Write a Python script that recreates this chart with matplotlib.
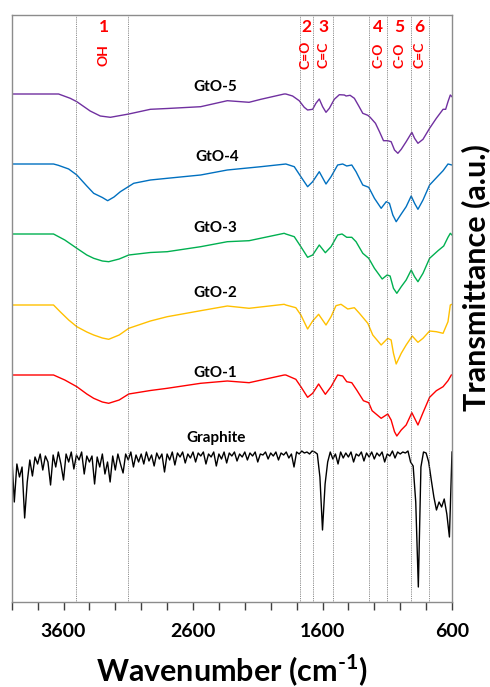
import numpy as np
import matplotlib
matplotlib.use("Agg")
import matplotlib.pyplot as plt
from matplotlib.ticker import FixedLocator, MultipleLocator

plt.rcParams['font.family'] = ['Lato', 'DejaVu Sans']
plt.rcParams['mathtext.fontset'] = 'custom'
plt.rcParams['mathtext.rm'] = 'Lato:bold'
plt.rcParams['mathtext.bf'] = 'Lato:bold'

# ---------------- data (wavenumber cm-1, transmittance a.u. incl. offset) ----------------
gto5_wn = [4000, 3638, 3548, 3497, 3394, 3316, 3238, 3096, 2929, 2799, 2541, 2335, 2167, 2076, 1896, 1883,
           1831, 1780, 1741, 1715,
           1676, 1651, 1625, 1599, 1573, 1547, 1509, 1470, 1431, 1418, 1387, 1354, 1320, 1289, 1250, 1232,
           1191, 1160, 1129, 1096, 1070, 1044, 1018, 992, 954, 910, 889, 863, 824, 773, 721, 669, 649, 631, 613, 600]
gto5_t = [508, 508, 503.7, 500.3, 491, 486, 484.7, 488, 492.7, 493.5, 495.3, 501.3, 499.7, 502.7, 508, 508,
          506, 501.3, 494.7, 492,
          492.7, 498.7, 503, 495.3, 489.7, 493.7, 502.7, 507.3, 507, 506, 506.7, 503.7, 496, 488.7, 486.7, 484.7,
          478.7, 470.3, 461.3, 461.3, 460.3, 452, 448.7, 452.7, 460.3, 469.7, 463.7, 458.7, 462.7, 473.7, 483.7, 492.7, 492.7, 500.3, 507, 505.3]

gto4_wn = [4000, 3677, 3640, 3560, 3497, 3420, 3367, 3300, 3259, 3210, 3161, 3058, 2929, 2799, 2541, 2335,
           2076, 1883, 1818, 1767, 1715,
           1676, 1625, 1573, 1534, 1483, 1444, 1413, 1374, 1341, 1289, 1243, 1199, 1147, 1108, 1083, 1057,
           1031, 992, 954, 915, 889, 863, 824, 773, 708, 669, 631, 600]
gto4_t = [438, 438, 436.7, 433, 427, 416, 408.7, 404.5, 401.3, 405, 410.3, 418.7, 422, 423.7, 427, 432,
          435.3, 438, 435.3, 425.3, 415.3,
          420.3, 430.3, 418, 425.3, 437, 438, 436, 437, 430.3, 417, 414.7, 403.7, 393.7, 400.3, 398.7, 387,
          380.3, 388, 395.3, 406, 398.7, 392.7, 402, 417, 426, 431.3, 438, 437]

gto3_wn = [4000, 3677, 3590, 3497, 3420, 3367, 3300, 3251, 3170, 3096, 2929, 2799, 2541, 2335, 2167, 1896,
           1883, 1818, 1767, 1715, 1676,
           1625, 1578, 1534, 1483, 1449, 1413, 1374, 1341, 1289, 1243, 1199, 1139, 1101, 1078, 1052, 1026,
           992, 954, 915, 889, 863, 824, 773, 708, 664, 631, 613, 600]
gto3_t = [368, 368, 362, 353.7, 347, 343.7, 341, 340.3, 343, 347, 349.5, 350.3, 355.3, 360.3, 361.3, 368.7,
          368, 365.3, 355.3, 344.7, 347,
          357, 349.3, 355.3, 367, 368, 364.7, 364.7, 360.3, 348.7, 343.7, 333.7, 323, 327, 326, 313.7, 308.7,
          315.3, 322, 332, 325.3, 320.3, 328.7, 343.7, 351.3, 356, 364.7, 368.7, 367]

gto2_wn = [4000, 3677, 3626, 3560, 3497, 3420, 3367, 3300, 3251, 3170, 3096, 2929, 2799, 2541, 2335, 2167,
           1896, 1883, 1806, 1767, 1715,
           1676, 1630, 1573, 1534, 1496, 1457, 1405, 1354, 1315, 1250, 1212, 1147, 1096, 1070, 1052, 1031,
           992, 954, 907, 863, 824, 773, 721, 669, 631, 613, 600]
gto2_t = [297, 297, 290.3, 282, 275.3, 270, 267, 264, 262.7, 267, 273.7, 281, 285.3, 291.3, 296, 293.7,
          297.7, 297, 294.3, 287, 273,
          281, 287.7, 277, 285.3, 296.3, 297.7, 293, 294.3, 288.7, 278.7, 267, 257, 263.7, 262, 248.7, 238,
          248.7, 257, 266, 259.7, 263.7, 271, 270.3, 268.7, 280.3, 297, 297.7]

gto1_wn = [4000, 3677, 3590, 3497, 3420, 3367, 3300, 3251, 3170, 3096, 2929, 2799, 2541, 2335, 2167, 1896,
           1883, 1806, 1767, 1715, 1676,
           1630, 1578, 1534, 1483, 1444, 1413, 1374, 1336, 1284, 1243, 1217, 1147, 1096, 1070, 1044, 1026,
           992, 954, 910, 863, 824, 773, 721, 669, 631, 605]
gto1_t = [227, 227, 222, 215.3, 208, 203.7, 200, 198.7, 202, 208, 211.5, 213.7, 218.7, 221, 219.3, 227,
          227, 222.7, 215.3, 204.7, 208.7,
          218, 207.7, 215.3, 227, 226, 220.3, 219.3, 212, 201.3, 199.3, 191.3, 183.7, 188, 182, 170.3, 166,
          172, 177, 189.3, 177, 189.3, 204.7, 211.3, 215.3, 221.3, 227]

graphite_wn = list(range(4000, 599, -20))
graphite_t = [148, 100, 138, 125, 135, 84, 120, 142, 126, 145,
              138, 148, 132, 146, 140, 117, 147, 135, 150, 138,
              122, 148, 140, 150, 133, 147, 142, 150, 128, 146,
              140, 146, 118, 145, 135, 148, 128, 140, 120, 146,
              132, 148, 138, 129, 148, 142, 150, 135, 147, 140,
              148, 138, 150, 141, 147, 136, 149, 143, 148, 130,
              148, 142, 150, 137, 149, 145, 150, 139, 148, 144,
              150, 140, 149, 146, 150, 138, 148, 145, 150, 136,
              148, 143, 150, 139, 149, 146, 150, 141, 148, 145,
              150, 142, 149, 146, 150, 140, 148, 147, 150, 143,
              149, 146, 150, 142, 149, 147, 150, 144, 148, 135,
              150, 148, 151, 149, 150, 148, 151, 150, 148, 125,
              72, 118, 140, 150, 143, 148, 138, 150, 144, 149,
              145, 150, 140, 148, 146, 150, 141, 149, 145, 150,
              143, 149, 146, 150, 140, 148, 146, 151, 144, 150,
              148, 150, 149, 151, 140, 136, 100, 15, 135, 150,
              149, 140, 122, 105, 92, 100, 95, 103, 88, 65, 150]

series_names = ["GtO-5", "GtO-4", "GtO-3", "GtO-2", "GtO-1", "Graphite"]
series_colors = ["#7030A0", "#0070C0", "#00B050", "#FFC000", "#FF0000", "#000000"]
label_wn = [2425, 2412, 2425, 2425, 2425, 2425]
label_t = [515, 445, 374, 309, 229, 164]

band_lines = [3500, 3100, 1775, 1670, 1520, 1240, 1100, 920, 775]
band_numbers = ["1", "2", "3", "4", "5", "6"]
band_number_wn = [3290, 1728, 1590, 1168, 1005, 852]
band_groups = ["OH", "C=O", "C=C", "C-O", "C-O", "C=C"]

# ---------------- figure ----------------
fig = plt.figure(figsize=(4.90, 6.87), dpi=100)
ax = fig.add_axes([11.7 / 490, 1 - 602 / 687, (452 - 11.7) / 490, (602 - 14.7) / 687])

wns = [gto5_wn, gto4_wn, gto3_wn, gto2_wn, gto1_wn, graphite_wn]
ts = [gto5_t, gto4_t, gto3_t, gto2_t, gto1_t, graphite_t]
for w, t, c, n in zip(wns, ts, series_colors, series_names):
    ax.plot(w, t, color=c, lw=1.0, solid_joinstyle='round')

for name, x, y in zip(series_names, label_wn, label_t):
    ax.text(x, y, name, ha='center', va='center', fontsize=11, fontweight='bold', color='black')

for x in band_lines:
    ax.axvline(x, color='#666666', lw=0.6, ls=(0, (1, 1.2)))

for num, x, grp in zip(band_numbers, band_number_wn, band_groups):
    ax.text(x, 575, num, ha='center', va='center', fontsize=12.5, fontweight='bold', color='#FF0000')
    ax.text(x, 547, grp, ha='center', va='center', fontsize=10, fontweight='bold', color='#FF0000',
            rotation=90)

ax.set_xlim(4000, 600)
ax.set_ylim(0, 587.3)
ax.xaxis.set_major_locator(FixedLocator([3600, 2600, 1600, 600]))
ax.xaxis.set_minor_locator(MultipleLocator(200))
ax.tick_params(axis='x', which='both', direction='out', length=6, width=1, color='#404040')
ax.tick_params(axis='x', which='major', labelsize=14, pad=9)
for lab in ax.get_xticklabels():
    lab.set_fontweight('bold')
ax.set_yticks([])
for s in ax.spines.values():
    s.set_color('#8c8c8c')
    s.set_linewidth(1.0)

fig.text(232 / 490, 1 - 670 / 687, 'Wavenumber (cm$^{\\text{-1}}$)', ha='center', va='center',
         fontsize=22, fontweight='bold')
fig.text(476 / 490, 1 - 278 / 687, 'Transmittance (a.u.)', ha='center', va='center',
         fontsize=22, fontweight='bold', rotation=90)

fig.savefig('out.png', dpi=100)
